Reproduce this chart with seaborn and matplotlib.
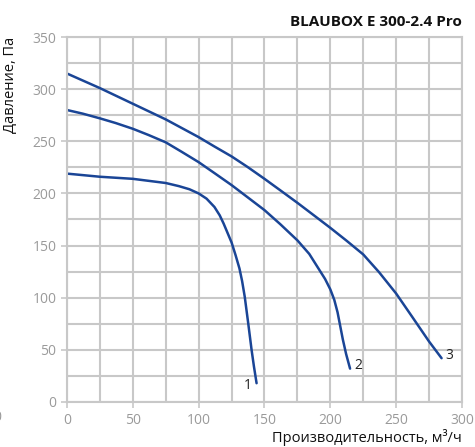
import matplotlib
matplotlib.use("Agg")
import matplotlib.pyplot as plt
from matplotlib.ticker import MultipleLocator
import pandas as pd
import seaborn as sns

# curve data
c1_x = [0, 25, 50, 75, 85, 93, 100, 106, 112, 116, 119, 122, 125, 128, 131,
        133, 135, 137.7, 140.2, 142, 144]
c1_y = [219, 216, 214, 210, 207, 204, 200, 195, 187, 179, 171, 162, 153, 141, 128,
        116, 101, 75, 50, 34, 18]
c2_x = [0, 12, 25, 37, 50, 62, 75, 87, 100, 112, 125, 137, 150, 162, 175, 184,
        191, 196, 200, 203, 205.5, 207.5, 209.5, 212, 215]
c2_y = [280, 276.5, 272, 267.5, 262, 256, 249, 240, 230, 219.5, 208, 196.5, 184,
        170.5, 155, 142, 128, 118, 108, 98, 86, 73, 60, 46, 32]
c3_x = [0, 25, 50, 75, 100, 112, 125, 137, 150, 162, 175, 187, 200, 212, 225, 237,
        250, 262, 275, 284.5]
c3_y = [315, 301, 286, 271, 254, 245, 235.5, 225.5, 214, 203, 191, 179.5, 167, 155,
        141.5, 124.5, 104, 82, 58, 42]
names = ["1", "2", "3"]

sns.set_style("white")
plt.rcParams['font.family'] = ['Open Sans', 'DejaVu Sans']

frames = []
for n, xs, ys in zip(names, [c1_x, c2_x, c3_x], [c1_y, c2_y, c3_y]):
    frames.append(pd.DataFrame({"q": xs, "p": ys, "curve": n}))
df = pd.concat(frames, ignore_index=True)

fig = plt.figure(figsize=(4.75, 4.47), dpi=100)
ax = fig.add_axes([0.141, 0.1007, 0.8316, 0.8165])

line_col = "#1a4596"
sns.lineplot(data=df, x="q", y="p", units="curve", estimator=None, sort=False,
             color=line_col, linewidth=1.8, ax=ax)

# curve number labels
for n, xs, ys in zip(names, [c1_x, c2_x, c3_x], [c1_y, c2_y, c3_y]):
    if n == "1":
        ax.text(xs[-1] - 4, ys[-1] - 2, n, fontsize=10, color="#222222",
                ha="right", va="center")
    else:
        ax.text(xs[-1] + 3, ys[-1] + 3, n, fontsize=10, color="#222222",
                ha="left", va="center")

ax.set_xlim(0, 300)
ax.set_ylim(0, 350)
ax.xaxis.set_major_locator(MultipleLocator(50))
ax.xaxis.set_minor_locator(MultipleLocator(25))
ax.yaxis.set_major_locator(MultipleLocator(50))
ax.yaxis.set_minor_locator(MultipleLocator(25))
ax.grid(which="both", color="#c8c8c8", linewidth=1.5)
ax.set_axisbelow(True)
for s in ax.spines.values():
    s.set_color("#c8c8c8")
    s.set_linewidth(1.5)

ax.tick_params(axis="both", which="major", labelsize=10, labelcolor="#9a9a9a",
               color="#c8c8c8", length=4, width=1.2, left=True, bottom=True)
ax.tick_params(axis="both", which="minor", length=0)
ax.tick_params(axis="x", pad=4)

ax.set_xlabel("Производительность, м³/ч", fontsize=10.5, color="#111111")
ax.xaxis.set_label_coords(1.0, -0.075)
ax.xaxis.label.set_ha("right")
ax.set_ylabel("Давление, Па", fontsize=10.5, color="#111111")
ax.yaxis.set_label_coords(-0.125, 1.0)
ax.yaxis.label.set_va("bottom")
ax.yaxis.label.set_ha("right")

fig.text(0.9726, 0.95, "BLAUBOX E 300-2.4 Pro", fontsize=11, fontweight="bold",
         ha="right", va="center", color="#111111")
# clipped tick label at the left edge, as in the reference
fig.text(-0.006, 0.065, "0", fontsize=10, color="#9a9a9a", ha="center", va="center")

fig.savefig("out.png", dpi=100)
